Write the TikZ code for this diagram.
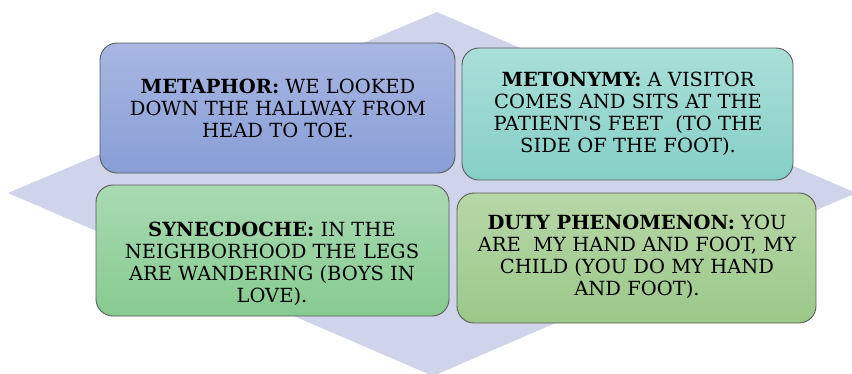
\documentclass[tikz,border=0pt]{standalone}
\usepackage{fontspec}
\setmainfont{DejaVu Serif}
\definecolor{diamondc}{HTML}{CFD4EA}
\definecolor{edgec}{HTML}{5A5A5A}
\definecolor{mphT}{HTML}{A8B7E2}
\definecolor{mphB}{HTML}{889ED6}
\definecolor{mtnT}{HTML}{AADFD9}
\definecolor{mtnB}{HTML}{85CFC7}
\definecolor{synT}{HTML}{AADAB3}
\definecolor{synB}{HTML}{86CB8F}
\definecolor{dutT}{HTML}{B7D7A7}
\definecolor{dutB}{HTML}{9BC889}
\begin{document}
\begin{tikzpicture}[x=1pt,y=-1pt,
  card/.style={draw=edgec, line width=0.9pt, rounded corners=17pt, inner sep=0pt},
  label/.style={align=center, inner sep=0pt, text=black, font=\fontsize{19.5}{22}\selectfont}]
\useasboundingbox (0,0) rectangle (852,373);
\clip (0,0) rectangle (852,373);
\fill[diamondc] (437,12) -- (856,193) -- (433,376) -- (8,193) -- cycle;
\node[card, minimum width=355pt, minimum height=130pt, top color=mphT, bottom color=mphB] (mph) at (277.5,108) {};
\node[card, minimum width=331pt, minimum height=132pt, top color=mtnT, bottom color=mtnB] (mtn) at (627.5,114) {};
\node[card, minimum width=353pt, minimum height=131pt, top color=synT, bottom color=synB] (syn) at (272.5,250.5) {};
\node[card, minimum width=359pt, minimum height=130pt, top color=dutT, bottom color=dutB] (dut) at (636.5,258) {};
\node[label] (mphT) at (278,108) {\textbf{METAPHOR:} WE LOOKED\\DOWN THE HALLWAY FROM\\HEAD TO TOE.};
\node[label] (mtnT) at (628,114) {\textbf{METONYMY:} A VISITOR\\COMES AND SITS AT THE\\PATIENT\textquotesingle S FEET\ \ (TO THE\\SIDE OF THE FOOT).};
\node[label] (synT) at (272,264) {\textbf{SYNECDOCHE:} IN THE\\NEIGHBORHOOD THE LEGS\\ARE WANDERING (BOYS IN\\LOVE).};
\node[label] (dutT) at (637,257) {\textbf{DUTY PHENOMENON:} YOU\\ARE\ \ MY HAND AND FOOT, MY\\CHILD (YOU DO MY HAND\\AND FOOT).};
\end{tikzpicture}
\end{document}
